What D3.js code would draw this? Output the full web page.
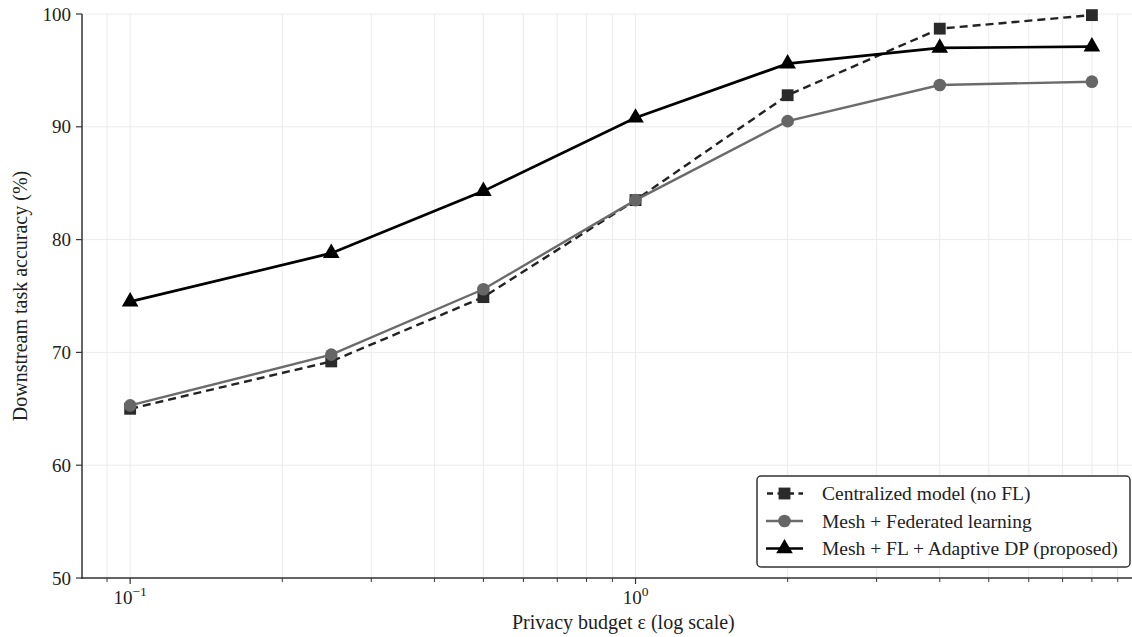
<!DOCTYPE html>
<html>
<head>
<meta charset="utf-8">
<script src="https://cdn.jsdelivr.net/npm/d3@7"></script>
<style>
  body { margin: 0; background: #fff; }
  svg { display: block; }
  svg text { font-family: "Liberation Serif", "DejaVu Serif", serif; }
</style>
</head>
<body>
<svg id="chart" width="1132" height="637"></svg>
<script>
var epsilons = [0.1, 0.25, 0.5, 1, 2, 4, 8];
var centralized = [65.0, 69.2, 74.9, 83.5, 92.8, 98.7, 99.9];
var meshFL = [65.3, 69.8, 75.6, 83.5, 90.5, 93.7, 94.0];
var proposed = [74.5, 78.8, 84.3, 90.8, 95.6, 97.0, 97.1];
var seriesNames = ["Centralized model (no FL)", "Mesh + Federated learning", "Mesh + FL + Adaptive DP (proposed)"];
var yTicks = [50, 60, 70, 80, 90, 100];
var xMajor = [0.1, 1];
var xLabels = ["\u22121", "0"];

var margin = {left: 82, top: 14, right: 1140, bottom: 578};

var x = d3.scaleLog().domain([0.0803, 9.96]).range([margin.left, margin.right]);
var y = d3.scaleLinear().domain([50, 100]).range([margin.bottom, margin.top]);

var svg = d3.select("#chart");

// minor ticks for log axis
var xMinor = [];
[0.01, 0.1, 1].forEach(function(b) {
  for (var k = 2; k <= 9; k++) {
    var v = b * k;
    if (v >= 0.0803 && v <= 9.96) xMinor.push(v);
  }
});

// grid
var grid = svg.append("g");
grid.selectAll(".vg").data(xMinor.concat(xMajor)).enter().append("line")
  .attr("x1", d => x(d)).attr("x2", d => x(d))
  .attr("y1", margin.top).attr("y2", margin.bottom)
  .style("stroke", "#ebebeb").style("stroke-width", 1);
grid.selectAll(".hg").data(yTicks).enter().append("line")
  .attr("x1", margin.left).attr("x2", margin.right)
  .attr("y1", d => y(d)).attr("y2", d => y(d))
  .style("stroke", "#ebebeb").style("stroke-width", 1);

// axes
var axis = svg.append("g");
axis.append("line").attr("x1", margin.left).attr("x2", margin.left)
  .attr("y1", margin.top).attr("y2", margin.bottom + 0.75)
  .style("stroke", "#333").style("stroke-width", 1.5);
axis.append("line").attr("x1", margin.left - 0.75).attr("x2", margin.right)
  .attr("y1", margin.bottom).attr("y2", margin.bottom)
  .style("stroke", "#333").style("stroke-width", 1.5);

axis.selectAll(".yt").data(yTicks).enter().append("line")
  .attr("x1", margin.left - 6).attr("x2", margin.left)
  .attr("y1", d => y(d)).attr("y2", d => y(d))
  .style("stroke", "#333").style("stroke-width", 1.2);
axis.selectAll(".yl").data(yTicks).enter().append("text")
  .attr("x", margin.left - 11).attr("y", d => y(d))
  .attr("dy", "0.35em").attr("text-anchor", "end")
  .style("font-size", "19px").style("fill", "#222")
  .text(d => d);

axis.selectAll(".xmt").data(xMinor).enter().append("line")
  .attr("x1", d => x(d)).attr("x2", d => x(d))
  .attr("y1", margin.bottom).attr("y2", margin.bottom + 4)
  .style("stroke", "#333").style("stroke-width", 1);
axis.selectAll(".xt").data(xMajor).enter().append("line")
  .attr("x1", d => x(d)).attr("x2", d => x(d))
  .attr("y1", margin.bottom).attr("y2", margin.bottom + 6)
  .style("stroke", "#333").style("stroke-width", 1.2);
var xl = axis.selectAll(".xl").data(xMajor).enter().append("text")
  .attr("x", d => x(d)).attr("y", margin.bottom + 26)
  .attr("text-anchor", "middle")
  .style("font-size", "19px").style("fill", "#222");
xl.append("tspan").text("10");
xl.append("tspan").attr("dy", -8).style("font-size", "13.5px").text((d, i) => xLabels[i]);

svg.append("text").attr("x", 512).attr("y", 629)
  .style("font-size", "20px").style("fill", "#222")
  .text("Privacy budget \u03b5 (log scale)");
svg.append("text").attr("transform", "translate(27," + ((margin.top + margin.bottom) / 2) + ") rotate(-90)")
  .attr("text-anchor", "middle").style("font-size", "20px").style("fill", "#222")
  .text("Downstream task accuracy (%)");

// series
var series = [
  {name: seriesNames[0], values: centralized, color: "#222", marker: "square", dash: "8,5", width: 2.4, mcolor: "#2a2a2a"},
  {name: seriesNames[1], values: meshFL, color: "#6b6b6b", marker: "circle", dash: null, width: 2.4, mcolor: "#666"},
  {name: seriesNames[2], values: proposed, color: "#000", marker: "triangle", dash: null, width: 2.7, mcolor: "#000"}
];

var symbolType = {square: d3.symbolSquare, circle: d3.symbolCircle, triangle: d3.symbolTriangle};
var symbolSize = {square: 140, circle: 125, triangle: 120};

var line = d3.line()
  .x(d => x(d[0]))
  .y(d => y(d[1]));

series.forEach(function(s) {
  var pts = epsilons.map((e, i) => [e, s.values[i]]);
  svg.append("path").datum(pts)
    .attr("d", line)
    .style("fill", "none")
    .style("stroke", s.color)
    .style("stroke-width", s.width)
    .style("stroke-dasharray", s.dash);
  svg.selectAll(null).data(pts).enter().append("path")
    .attr("transform", d => "translate(" + x(d[0]) + "," + y(d[1]) + ")")
    .attr("d", d3.symbol().type(symbolType[s.marker]).size(symbolSize[s.marker]))
    .style("fill", s.mcolor);
});

// legend
var lg = svg.append("g").attr("transform", "translate(757,476)");
lg.append("rect").attr("width", 373).attr("height", 91).attr("rx", 4)
  .style("fill", "#fff").style("stroke", "#333").style("stroke-width", 1.5);
series.forEach(function(s, i) {
  var row = lg.append("g").attr("transform", "translate(0," + (17.5 + i * 27.5) + ")");
  row.append("line").attr("x1", 9).attr("x2", 46).attr("y1", 0).attr("y2", 0)
    .style("stroke", s.color).style("stroke-width", s.width)
    .style("stroke-dasharray", s.dash ? "6,4.5" : null)
    .style("stroke-dashoffset", s.dash ? -1 : null);
  row.append("path").attr("transform", "translate(27.5,0)")
    .attr("d", d3.symbol().type(symbolType[s.marker]).size(symbolSize[s.marker]))
    .style("fill", s.mcolor);
  row.append("text").attr("x", 65).attr("y", 0).attr("dy", "0.35em")
    .style("font-size", "19.5px").style("fill", "#222")
    .text(s.name);
});
</script>
</body>
</html>
